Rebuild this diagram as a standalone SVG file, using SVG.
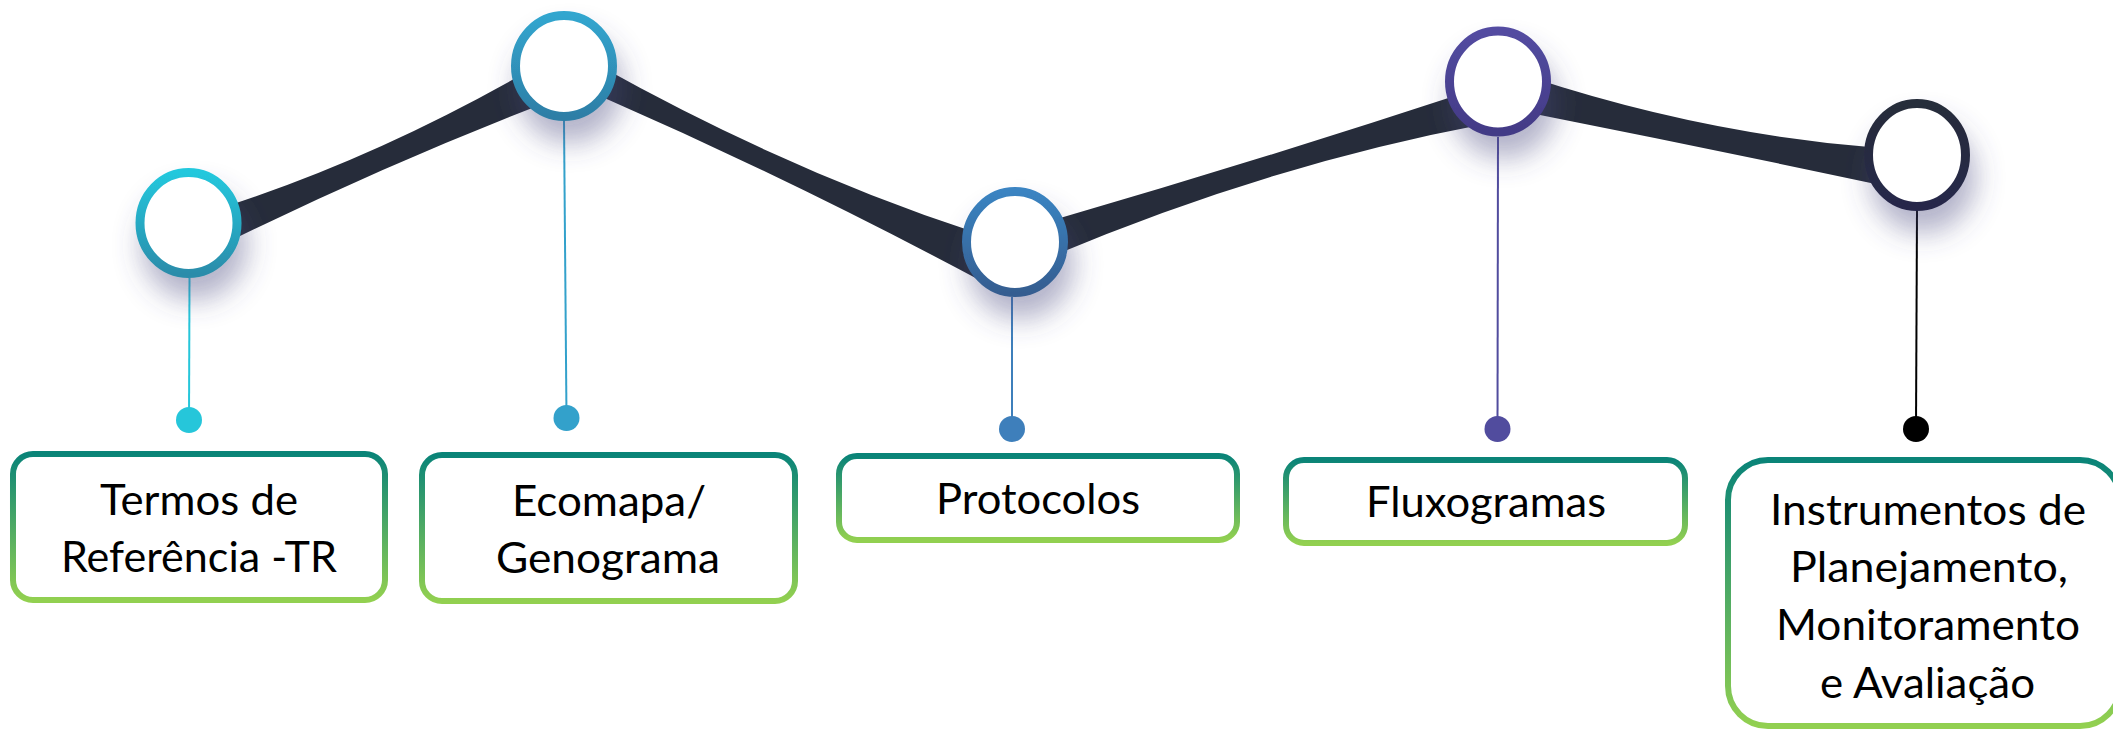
<svg xmlns="http://www.w3.org/2000/svg" width="2113" height="730" viewBox="0 0 2113 730">
  <style>
    .band { fill: #262c3a; }
    .ring { fill: #ffffff; stroke-width: 9; }
    .box { fill: #ffffff; stroke: url(#gBox); stroke-width: 6; }
    .lbl { font-family: Lato, "Open Sans", "Liberation Sans", sans-serif; font-size: 42px; fill: #000000; text-anchor: middle; }
    .stem { stroke-width: 2; fill: none; }
  </style>
  <defs>
    <linearGradient id="g1" x1="0" y1="0" x2="0" y2="1"><stop offset="0" stop-color="#24c8dd"/><stop offset="1" stop-color="#2a8caa"/></linearGradient>
    <linearGradient id="g2" x1="0" y1="0" x2="0" y2="1"><stop offset="0" stop-color="#32a6cf"/><stop offset="1" stop-color="#2d7ea6"/></linearGradient>
    <linearGradient id="g3" x1="0" y1="0" x2="0" y2="1"><stop offset="0" stop-color="#3a84c2"/><stop offset="1" stop-color="#355d90"/></linearGradient>
    <linearGradient id="g4" x1="0" y1="0" x2="0" y2="1"><stop offset="0" stop-color="#534ca1"/><stop offset="1" stop-color="#433a86"/></linearGradient>
    <linearGradient id="g5" x1="0" y1="0" x2="0" y2="1"><stop offset="0" stop-color="#272d3a"/><stop offset="1" stop-color="#28284a"/></linearGradient>
    <linearGradient id="gBox" x1="0" y1="0" x2="0" y2="1"><stop offset="0" stop-color="#0a8478"/><stop offset="1" stop-color="#92d050"/></linearGradient>
    <filter id="sh" x="-60%" y="-60%" width="220%" height="260%">
      <feGaussianBlur in="SourceAlpha" stdDeviation="14"/>
      <feOffset dx="6" dy="22" result="b"/>
      <feFlood flood-color="#4a4a80" flood-opacity="0.42"/>
      <feComposite in2="b" operator="in"/>
      <feMerge><feMergeNode/><feMergeNode in="SourceGraphic"/></feMerge>
    </filter>
  </defs>

  <g id="connectors">
    <path class="band" d="M230,205 Q382.5,155 535,67 L540,105 Q385,165 230,241 Z"/>
    <path class="band" d="M600,66 Q790,172 980,234 L985,283 Q792.5,180 600,96 Z"/>
    <path class="band" d="M1050,221 Q1260,160 1470,91 L1485,124 Q1267.5,165 1050,257 Z"/>
    <path class="band" d="M1530,77 Q1705,134.5 1880,148 L1885,186 Q1707,148 1530,113 Z"/>
    <line class="stem" x1="189.5" y1="278" x2="189" y2="420" stroke="#26c6da"/>
    <circle cx="189" cy="420" r="13" fill="#26c6da"/>
    <line class="stem" x1="564" y1="121" x2="566.5" y2="418" stroke="#33a1cb"/>
    <circle cx="566.5" cy="418" r="13" fill="#33a1cb"/>
    <line class="stem" x1="1012" y1="297" x2="1012" y2="429" stroke="#3e7fbb"/>
    <circle cx="1012" cy="429" r="13" fill="#3e7fbb"/>
    <line class="stem" x1="1498" y1="137" x2="1497.5" y2="429" stroke="#514c9e"/>
    <circle cx="1497.5" cy="429" r="13" fill="#514c9e"/>
    <line class="stem" x1="1917" y1="211" x2="1916" y2="429" stroke="#000000" stroke-width="2.5"/>
    <circle cx="1916" cy="429" r="13" fill="#000000"/>
  </g>

  <g id="milestone1"><ellipse class="ring" cx="188.5" cy="223" rx="48.5" ry="50.5" stroke="url(#g1)" filter="url(#sh)"/></g>
  <g id="milestone2"><ellipse class="ring" cx="564" cy="66" rx="48.5" ry="50.5" stroke="url(#g2)" filter="url(#sh)"/></g>
  <g id="milestone3"><ellipse class="ring" cx="1015" cy="242" rx="48.5" ry="50.5" stroke="url(#g3)" filter="url(#sh)"/></g>
  <g id="milestone4"><ellipse class="ring" cx="1498" cy="81.5" rx="48.5" ry="50.5" stroke="url(#g4)" filter="url(#sh)"/></g>
  <g id="milestone5"><ellipse class="ring" cx="1917" cy="155" rx="48.5" ry="51.5" stroke="url(#g5)" filter="url(#sh)"/></g>

  <g id="box1">
    <rect class="box" x="13" y="454" width="372" height="146" rx="20"/>
    <text class="lbl" x="199" y="515" textLength="198" lengthAdjust="spacingAndGlyphs">Termos de</text>
    <text class="lbl" x="199" y="572" textLength="276" lengthAdjust="spacingAndGlyphs">Referência -TR</text>
  </g>
  <g id="box2">
    <rect class="box" x="422" y="455" width="373" height="146" rx="20"/>
    <text class="lbl" x="609" y="516" textLength="194" lengthAdjust="spacingAndGlyphs">Ecomapa/</text>
    <text class="lbl" x="608" y="573" textLength="224" lengthAdjust="spacingAndGlyphs">Genograma</text>
  </g>
  <g id="box3">
    <rect class="box" x="839" y="456" width="398" height="84" rx="18"/>
    <text class="lbl" x="1038" y="514" textLength="204" lengthAdjust="spacingAndGlyphs">Protocolos</text>
  </g>
  <g id="box4">
    <rect class="box" x="1286" y="460" width="399" height="83" rx="18"/>
    <text class="lbl" x="1486" y="517" textLength="240" lengthAdjust="spacingAndGlyphs">Fluxogramas</text>
  </g>
  <g id="box5">
    <rect class="box" x="1728" y="460" width="392" height="266" rx="40"/>
    <text class="lbl" x="1928" y="525" textLength="316" lengthAdjust="spacingAndGlyphs">Instrumentos de</text>
    <text class="lbl" x="1929" y="582" textLength="278" lengthAdjust="spacingAndGlyphs">Planejamento,</text>
    <text class="lbl" x="1928" y="640" textLength="304" lengthAdjust="spacingAndGlyphs">Monitoramento</text>
    <text class="lbl" x="1927.5" y="698" textLength="215" lengthAdjust="spacingAndGlyphs">e Avaliação</text>
  </g>
</svg>
